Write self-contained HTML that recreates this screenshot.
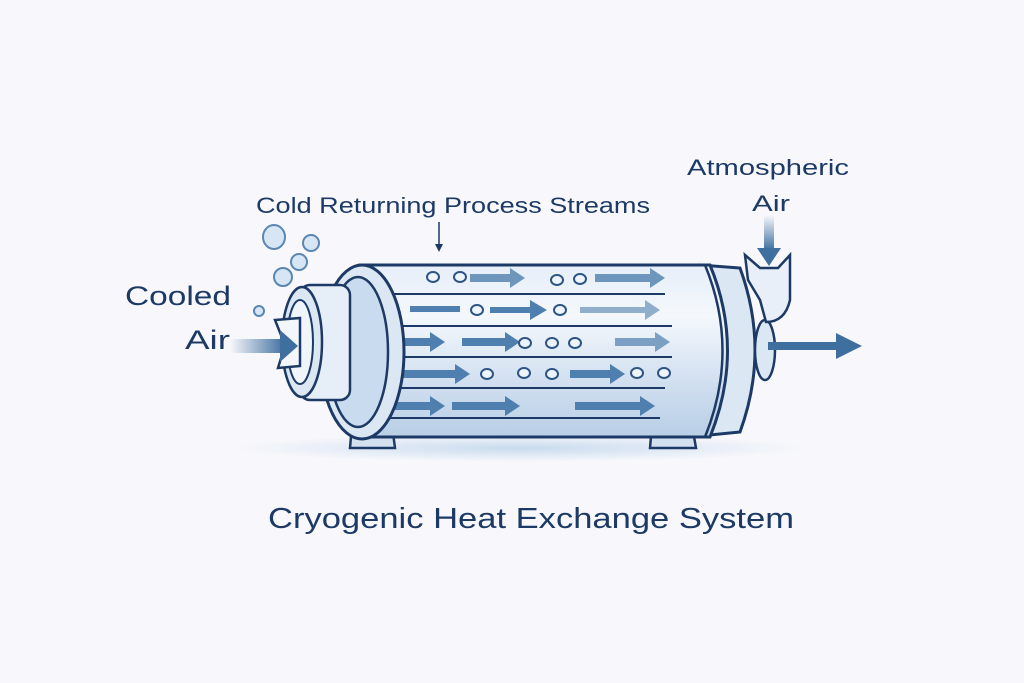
<!DOCTYPE html>
<html><head><meta charset="utf-8"><style>
html,body{margin:0;padding:0;background:#f8f8fc;}
svg{display:block;}
text{font-family:"Liberation Sans",sans-serif;fill:#1d3a66;}
</style></head><body>
<svg width="1024" height="683" viewBox="0 0 1024 683" xmlns="http://www.w3.org/2000/svg">
<defs>
<linearGradient id="body" x1="0" y1="0" x2="0" y2="1">
<stop offset="0" stop-color="#e6eef8"/><stop offset="0.3" stop-color="#f4f8fc"/><stop offset="0.7" stop-color="#cfdeef"/><stop offset="1" stop-color="#b9cfe6"/></linearGradient>
<linearGradient id="inArrow" x1="0" y1="0" x2="1" y2="0">
<stop offset="0" stop-color="#3f6f9f" stop-opacity="0"/><stop offset="1" stop-color="#3f6f9f"/></linearGradient>
<linearGradient id="downArrow" x1="0" y1="0" x2="0" y2="1">
<stop offset="0" stop-color="#3f6f9f" stop-opacity="0"/><stop offset="1" stop-color="#3f6f9f"/></linearGradient>
<radialGradient id="shadow"><stop offset="0" stop-color="#c9dbee"/><stop offset="1" stop-color="#c9dbee" stop-opacity="0"/></radialGradient>
</defs>
<ellipse cx="520" cy="448" rx="290" ry="14" fill="url(#shadow)"/>
<path d="M352 425 L392 425 L395 448 L350 448 Z" fill="#d2e0ef" stroke="#1d3a66" stroke-width="2.5"/>
<path d="M652 425 L692 425 L696 448 L650 448 Z" fill="#d2e0ef" stroke="#1d3a66" stroke-width="2.5"/>
<path d="M700 265 L740 268 Q770 350 740 432 L700 436 Z" fill="#dbe7f3" stroke="#1d3a66" stroke-width="3"/>
<ellipse cx="765" cy="350" rx="10" ry="30" fill="#dbe7f3" stroke="#1d3a66" stroke-width="2.5"/>
<path d="M745 255 L760 268 L778 268 L790 255 L790 300 Q785 322 766 322 L760 300 L748 280 Z" fill="#e8eff8" stroke="#1d3a66" stroke-width="2.5"/>
<rect x="764" y="215" width="10" height="35" fill="url(#downArrow)"/>
<path d="M757 248 L781 248 L769 266 Z" fill="#3f6f9f"/>
<rect x="768" y="342" width="72" height="8" fill="#3f6f9f"/>
<path d="M836 333 L862 346 L836 359 Z" fill="#3f6f9f"/>
<path d="M360 265 L710 265 Q745 350 710 437 L360 437 Z" fill="url(#body)" stroke="#1d3a66" stroke-width="3"/>
<path d="M705 265 Q740 350 705 437" fill="none" stroke="#1d3a66" stroke-width="2.5"/>
<g stroke="#1d3a66" stroke-width="2">
<line x1="385" y1="294" x2="665" y2="294"/><line x1="390" y1="326" x2="672" y2="326"/>
<line x1="390" y1="357" x2="672" y2="357"/><line x1="385" y1="388" x2="665" y2="388"/>
<line x1="385" y1="418" x2="660" y2="418"/>
</g>
<g fill="#4f7fae">
<path d="M470 274 L510 274 L510 268 L525 278 L510 288 L510 282 L470 282Z" opacity="0.8"/>
<path d="M595 274 L650 274 L650 268 L665 278 L650 288 L650 282 L595 282Z" opacity="0.8"/>
<path d="M410 306 L460 306 L460 312 L410 312Z"/>
<path d="M490 307 L530 307 L530 300 L547 310 L530 320 L530 313 L490 313Z"/>
<path d="M580 307 L645 307 L645 300 L660 310 L645 320 L645 313 L580 313Z" opacity="0.6"/>
<path d="M395 338 L430 338 L430 332 L445 342 L430 352 L430 346 L395 346Z"/>
<path d="M462 338 L505 338 L505 332 L520 342 L505 352 L505 346 L462 346Z"/>
<path d="M615 338 L655 338 L655 332 L670 342 L655 352 L655 346 L615 346Z" opacity="0.7"/>
<path d="M400 370 L455 370 L455 364 L470 374 L455 384 L455 378 L400 378Z"/>
<path d="M570 370 L610 370 L610 364 L625 374 L610 384 L610 378 L570 378Z"/>
<path d="M380 402 L430 402 L430 396 L445 406 L430 416 L430 410 L380 410Z"/>
<path d="M452 402 L505 402 L505 396 L520 406 L505 416 L505 410 L452 410Z"/>
<path d="M575 402 L640 402 L640 396 L655 406 L640 416 L640 410 L575 410Z"/>
</g>
<g fill="#eef4fb" stroke="#2c5585" stroke-width="2">
<ellipse cx="433" cy="277" rx="6" ry="5"/><ellipse cx="460" cy="277" rx="6" ry="5"/>
<ellipse cx="557" cy="280" rx="6" ry="5"/><ellipse cx="580" cy="279" rx="6" ry="5"/>
<ellipse cx="477" cy="310" rx="6" ry="5"/><ellipse cx="560" cy="310" rx="6" ry="5"/>
<ellipse cx="525" cy="343" rx="6" ry="5"/><ellipse cx="552" cy="343" rx="6" ry="5"/><ellipse cx="575" cy="343" rx="6" ry="5"/>
<ellipse cx="487" cy="374" rx="6" ry="5"/><ellipse cx="524" cy="373" rx="6" ry="5"/><ellipse cx="552" cy="374" rx="6" ry="5"/>
<ellipse cx="637" cy="373" rx="6" ry="5"/><ellipse cx="664" cy="373" rx="6" ry="5"/>
</g>
<ellipse cx="362" cy="352" rx="42" ry="87" fill="#dbe7f3" stroke="#1d3a66" stroke-width="3"/>
<ellipse cx="358" cy="352" rx="30" ry="75" fill="#c9dbee" stroke="#1d3a66" stroke-width="2.5"/>
<rect x="300" y="285" width="50" height="115" rx="10" fill="#e6eef8" stroke="#1d3a66" stroke-width="2.5"/>
<ellipse cx="302" cy="342" rx="20" ry="55" fill="#dbe7f3" stroke="#1d3a66" stroke-width="2.5"/>
<ellipse cx="300" cy="342" rx="13" ry="42" fill="#f0f5fb" stroke="#1d3a66" stroke-width="2"/>
<path d="M275 320 L300 318 L300 366 L278 368 L285 345 Z" fill="#f3f7fc" stroke="#1d3a66" stroke-width="2.5"/>
<rect x="230" y="339" width="55" height="14" fill="url(#inArrow)"/>
<path d="M280 330 L298 346 L280 362 Z" fill="#3f6f9f"/>
<g fill="#d7e6f4" stroke="#5a86b3" stroke-width="2">
<ellipse cx="274" cy="237" rx="11" ry="12"/><circle cx="311" cy="243" r="8"/>
<circle cx="299" cy="262" r="8"/><circle cx="283" cy="277" r="9"/><circle cx="259" cy="311" r="5"/>
</g>
<line x1="439" y1="222" x2="439" y2="248" stroke="#1d3a66" stroke-width="1.5"/>
<path d="M435 244 L439 252 L443 244 Z" fill="#1d3a66"/>
<text x="125" y="305" font-size="27" textLength="106" lengthAdjust="spacingAndGlyphs">Cooled</text>
<text x="185" y="349" font-size="27" textLength="45" lengthAdjust="spacingAndGlyphs">Air</text>
<text x="256" y="213" font-size="22" textLength="394" lengthAdjust="spacingAndGlyphs">Cold Returning Process Streams</text>
<text x="687" y="175" font-size="22" textLength="162" lengthAdjust="spacingAndGlyphs">Atmospheric</text>
<text x="752" y="211" font-size="22" textLength="38" lengthAdjust="spacingAndGlyphs">Air</text>
<text x="268" y="528" font-size="29" textLength="526" lengthAdjust="spacingAndGlyphs">Cryogenic Heat Exchange System</text>
</svg>
</body></html>
